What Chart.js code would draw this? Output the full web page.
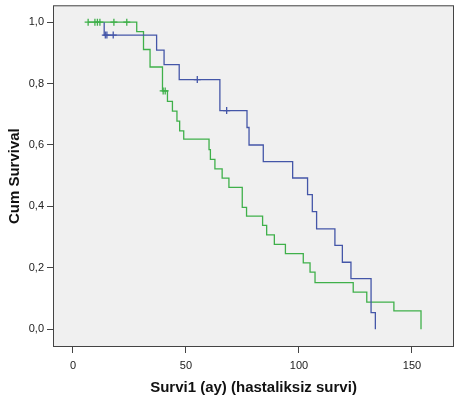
<!DOCTYPE html>
<html>
<head>
<meta charset="utf-8">
<script src="https://cdn.jsdelivr.net/npm/chart.js@4/dist/chart.umd.min.js"></script>
<style>
  body { margin: 0; background: #fff; }
  #wrap { width: 460px; height: 400px; }
</style>
</head>
<body>
<div id="wrap"><canvas id="myChart"></canvas></div>
<script>
// group 1 (blue) - event times and survival after each step
var blueTimes = [13.8, 13.8, 37, 40.3, 47, 65, 77, 77.9, 84.2, 97.2, 103.8, 105.9, 107.8, 115.9, 119.2, 123, 131.9, 133.8];
var blueSurv = [1.0, 0.958, 0.909, 0.862, 0.813, 0.712, 0.657, 0.600, 0.546, 0.4925, 0.438, 0.383, 0.327, 0.273, 0.218, 0.1645, 0.054, 0.0];
var blueCensTimes = [14.3, 15.0, 17.8, 55, 68];
var blueCensSurv = [0.958, 0.958, 0.958, 0.813, 0.712];

// group 2 (green)
var greenTimes = [6.7, 28.2, 31.2, 34.1, 39.6, 41.8, 44, 46, 47.2, 49, 60.2, 60.8, 62.8, 66, 69, 74.9, 76.8, 83.9, 85.7, 89.1, 94, 101.9, 104.9, 107.1, 124, 130, 142, 154];
var greenSurv = [1.0, 0.969, 0.911, 0.854, 0.776, 0.742, 0.710, 0.678, 0.646, 0.619, 0.585, 0.553, 0.522, 0.492, 0.462, 0.397, 0.368, 0.338, 0.307, 0.276, 0.246, 0.216, 0.186, 0.152, 0.121, 0.088, 0.0595, 0.0];
var greenCensTimes = [6.7, 9.7, 10.8, 11.9, 18.1, 23.8, 39.9, 40.8];
var greenCensSurv = [1.0, 1.0, 1.0, 1.0, 1.0, 1.0, 0.776, 0.776];

var xTicks = [0, 50, 100, 150];
var yTicks = [0, 0.2, 0.4, 0.6, 0.8, 1.0];

var blueColor = "#4456a8";
var greenColor = "#3fb04a";

function pts(xs, ys) {
    var out = [];
    for (var i = 0; i < xs.length; i++) {
        out.push({ x: xs[i], y: ys[i] });
    }
    return out;
}

// grey plot background and dark frame
var frame = {
    id: "frame",
    beforeDatasetsDraw: function (chart) {
        var a = chart.chartArea;
        var ctx = chart.ctx;
        ctx.save();
        ctx.fillStyle = "#f0f0f0";
        ctx.fillRect(a.left, a.top, a.right - a.left, a.bottom - a.top);
        ctx.strokeStyle = "#444";
        ctx.lineWidth = 1;
        ctx.strokeRect(a.left + 0.5, a.top + 0.5, a.right - a.left - 1, a.bottom - a.top - 1);
        ctx.restore();
    },
};

var ctx = document.getElementById("myChart").getContext("2d");

var myChart = new Chart(ctx, {
    type: "scatter",
    data: {
        datasets: [
            {
                data: pts(blueTimes, blueSurv),
                showLine: true,
                stepped: true,
                borderColor: blueColor,
                borderWidth: 1.3,
                pointRadius: 0,
            },
            {
                data: pts(greenTimes, greenSurv),
                showLine: true,
                stepped: true,
                borderColor: greenColor,
                borderWidth: 1.3,
                pointRadius: 0,
            },
            {
                data: pts(blueCensTimes, blueCensSurv),
                pointStyle: "cross",
                pointRadius: 3.5,
                pointBorderWidth: 1.3,
                borderColor: blueColor,
            },
            {
                data: pts(greenCensTimes, greenCensSurv),
                pointStyle: "cross",
                pointRadius: 3.5,
                pointBorderWidth: 1.3,
                borderColor: greenColor,
            },
        ],
    },
    options: {
        responsive: true,
        maintainAspectRatio: false,
        animation: false,
        layout: { padding: { top: 4, right: 6, left: 0, bottom: 0 } },
        plugins: {
            legend: { display: false },
            tooltip: { enabled: false },
        },
        scales: {
            x: {
                type: "linear",
                min: -8.85,
                max: 168.6,
                afterBuildTicks: function (axis) {
                    axis.ticks = xTicks.map(function (v) { return { value: v }; });
                },
                afterFit: function (axis) {
                    axis.height = 53;
                    axis.paddingLeft = 0;
                    axis.paddingRight = 0;
                },
                border: { display: false },
                grid: { drawOnChartArea: false, drawTicks: true, tickLength: 6, color: "#444" },
                ticks: {
                    color: "#222",
                    padding: 6,
                    maxRotation: 0,
                    font: { family: "Liberation Sans", size: 11 },
                },
                title: {
                    display: true,
                    text: "Survi1 (ay) (hastaliksiz survi)",
                    color: "#111",
                    padding: { top: 0, bottom: 3 },
                    font: { family: "Liberation Sans", size: 15, weight: "bold" },
                },
            },
            y: {
                type: "linear",
                min: -0.058,
                max: 1.055,
                afterBuildTicks: function (axis) {
                    axis.ticks = yTicks.map(function (v) { return { value: v }; });
                },
                afterFit: function (axis) {
                    axis.width = 53;
                    axis.paddingTop = 0;
                    axis.paddingBottom = 0;
                },
                border: { display: false },
                grid: { drawOnChartArea: false, drawTicks: true, tickLength: 6, color: "#444" },
                ticks: {
                    color: "#222",
                    padding: 3,
                    font: { family: "Liberation Sans", size: 11 },
                    callback: function (v) { return v.toFixed(1).replace(".", ","); },
                },
                title: {
                    display: true,
                    text: "Cum Survival",
                    color: "#111",
                    padding: { top: 6, bottom: 0 },
                    font: { family: "Liberation Sans", size: 15, weight: "bold" },
                },
            },
        },
    },
    plugins: [frame],
});
</script>
</body>
</html>
